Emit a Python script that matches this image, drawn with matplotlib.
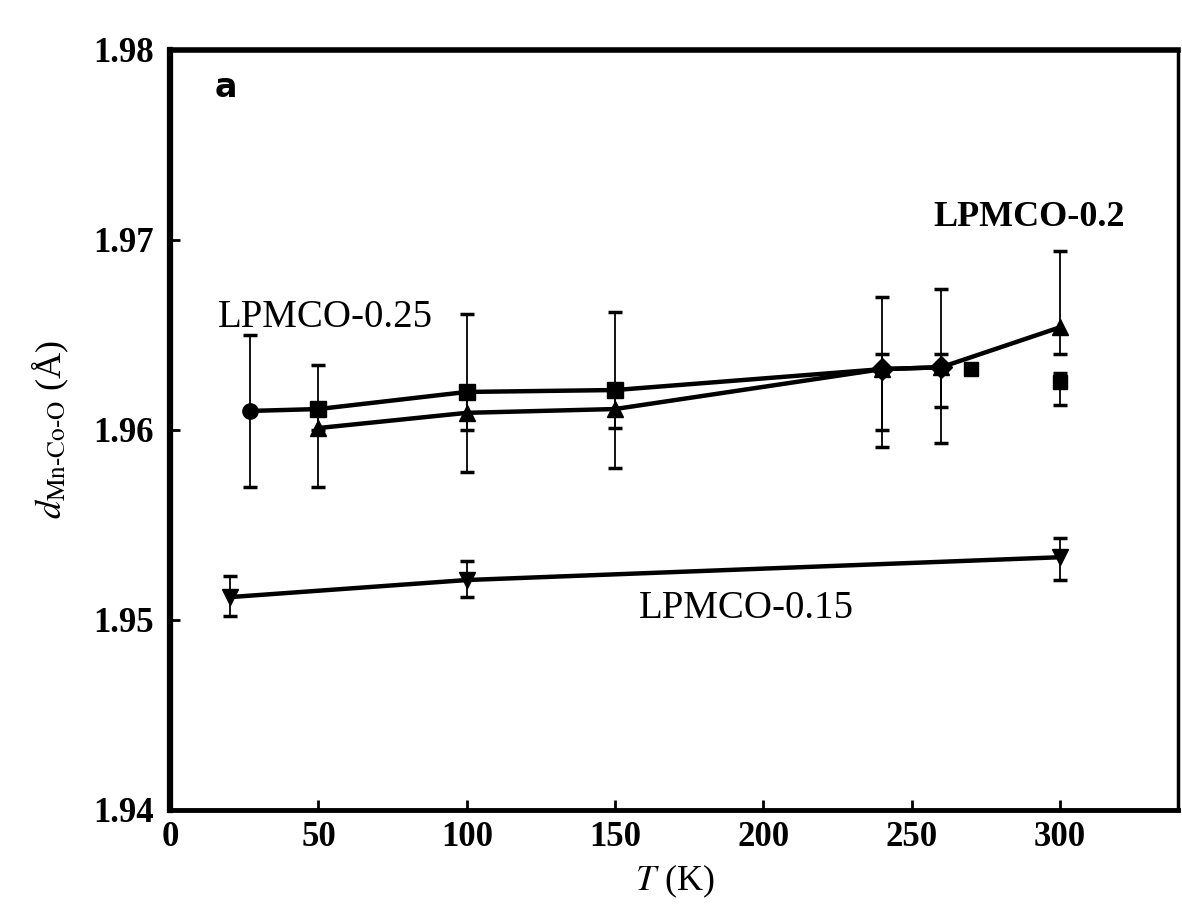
import matplotlib

matplotlib.use("Agg")

import matplotlib.pyplot as plt

plt.rcParams["font.family"] = ["Liberation Serif", "DejaVu Serif"]
plt.rcParams["mathtext.fontset"] = "stix"

# LPMCO-0.25 (upper line)
T_25 = [27, 50, 100, 150, 240, 260]
d_25 = [1.9610, 1.9611, 1.9620, 1.9621, 1.9632, 1.9633]
lo_25 = [1.9570, 1.9600, 1.9600, 1.9601, 1.9600, 1.9612]
hi_25 = [1.9650, 1.9634, 1.9661, 1.9662, 1.9670, 1.9674]
mk_25 = ["o", "s", "s", "s", "D", "D"]

# LPMCO-0.2 (lower line of the upper pair)
T_20 = [50, 100, 150, 240, 260, 300]
d_20 = [1.9601, 1.9609, 1.9611, 1.9632, 1.9633, 1.9654]
lo_20 = [1.9570, 1.9578, 1.9580, 1.9591, 1.9593, 1.9640]
hi_20 = [1.9610, 1.9620, 1.9621, 1.9640, 1.9640, 1.9694]

# loose square markers near the right end
T_sq = [270, 300]
d_sq = [1.9632, 1.9625]
lo_sq = [1.9632, 1.9613]
hi_sq = [1.9632, 1.9630]

# LPMCO-0.15
T_15 = [20, 100, 300]
d_15 = [1.9512, 1.9521, 1.9533]
lo_15 = [1.9502, 1.9512, 1.9521]
hi_15 = [1.9523, 1.9531, 1.9543]


def _errs(vals, lo, hi):
    return [[v - l for v, l in zip(vals, lo)], [h - v for v, h in zip(vals, hi)]]


fig = plt.figure(figsize=(11.82, 9.08), dpi=100)
ax = fig.add_axes([0.144, 0.108, 0.853, 0.837])

ax.plot(T_25, d_25, color="black", lw=3.2, zorder=3)
ax.plot(T_20, d_20, color="black", lw=3.2, zorder=3)
ax.plot(T_15, d_15, color="black", lw=3.2, zorder=3)

ax.errorbar(T_25, d_25, yerr=_errs(d_25, lo_25, hi_25), fmt="none",
            ecolor="black", elinewidth=1.3, capsize=5, capthick=2.5)
for t, d, m in zip(T_25, d_25, mk_25):
    ax.plot(t, d, marker=m, color="black", ms=11, ls="none", zorder=4)

ax.errorbar(T_20, d_20, yerr=_errs(d_20, lo_20, hi_20), fmt="^",
            color="black", ms=11, elinewidth=1.3, capsize=5, capthick=2.5, zorder=4)
ax.errorbar(T_sq, d_sq, yerr=_errs(d_sq, lo_sq, hi_sq), fmt="s",
            color="black", ms=10, elinewidth=1.3, capsize=5, capthick=2.5, zorder=4)
ax.errorbar(T_15, d_15, yerr=_errs(d_15, lo_15, hi_15), fmt="v",
            color="black", ms=12, elinewidth=1.3, capsize=5, capthick=2.5, zorder=4)

ax.text(15, 1.9780, "a", fontsize=24, fontweight="bold", family=["DejaVu Sans"],
        va="center", ha="left")
ax.text(16, 1.9659, "LPMCO-0.25", fontsize=28, va="center", ha="left")
ax.text(257.5, 1.9712, "LPMCO-0.2", fontsize=26, fontweight="bold", va="center", ha="left")
ax.text(158, 1.9506, "LPMCO-0.15", fontsize=28, va="center", ha="left")

ax.set_xlim(0, 340)
ax.set_ylim(1.94, 1.98)
ax.set_xticks([0, 50, 100, 150, 200, 250, 300])
ax.set_yticks([1.94, 1.95, 1.96, 1.97, 1.98])
ax.set_yticklabels(["1.94", "1.95", "1.96", "1.97", "1.98"])
ax.tick_params(direction="in", length=7, width=2, labelsize=25)
ax.tick_params(axis="y", pad=12)
ax.tick_params(axis="x", pad=8)
for lab in ax.get_xticklabels() + ax.get_yticklabels():
    lab.set_fontweight("bold")

for side, w in [("left", 4.5), ("bottom", 3.5), ("top", 4.0), ("right", 2.5)]:
    ax.spines[side].set_linewidth(w)

ax.set_xlabel(r"$T$ (K)", fontsize=26, labelpad=6)
ax.set_ylabel(r"$d_{\rm Mn‐Co‐O}$ (Å)", fontsize=26, labelpad=16)

fig.savefig("out.png", dpi=100)
